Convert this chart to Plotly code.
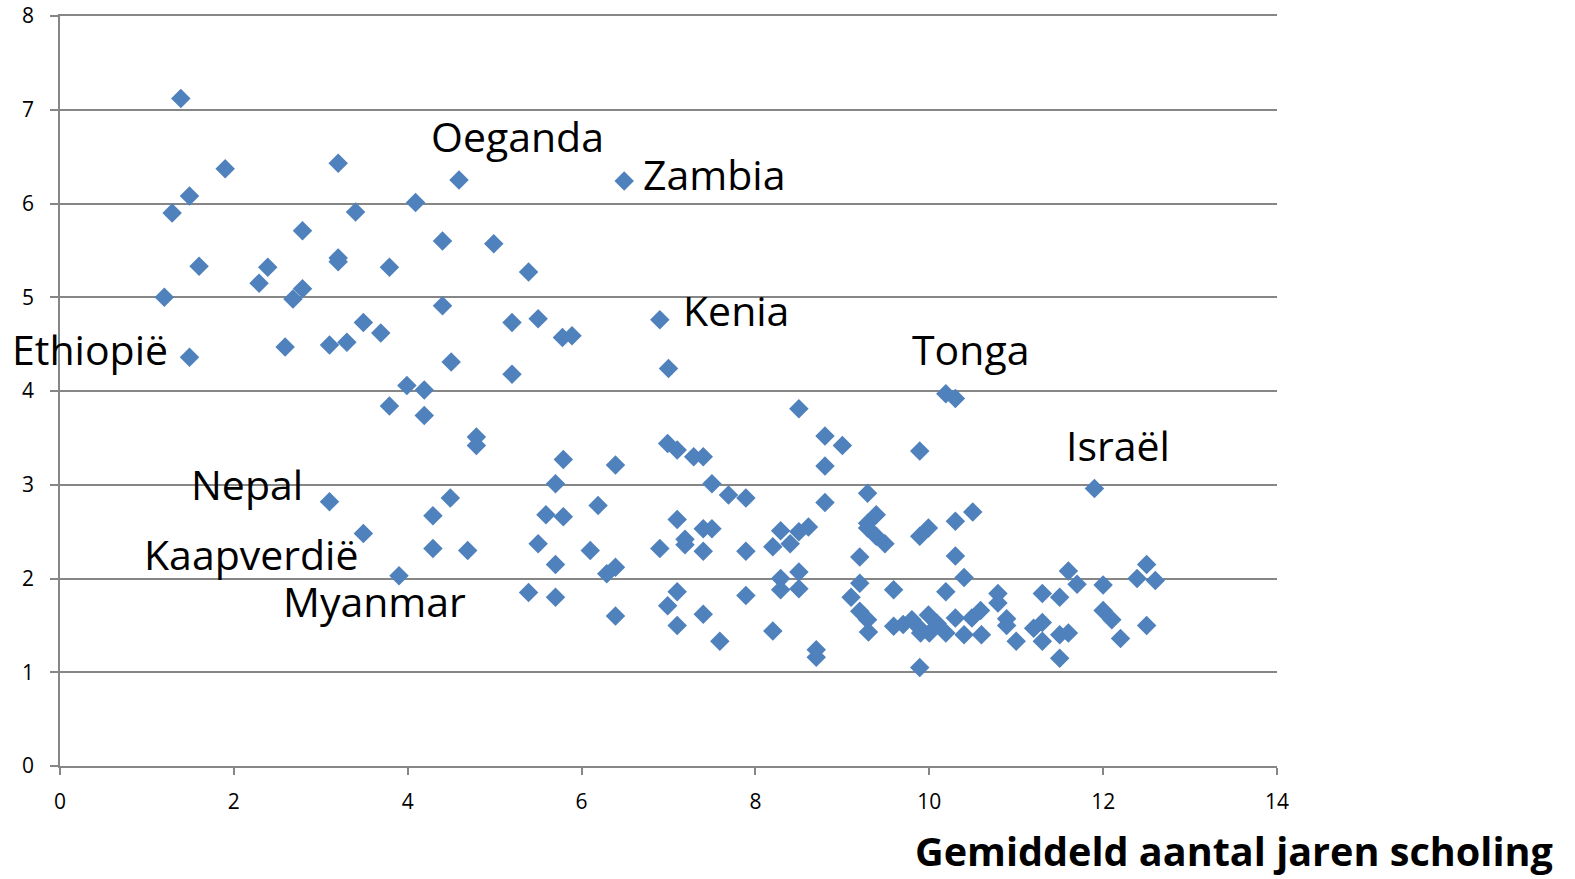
import plotly.graph_objects as go

# Gemiddeld aantal jaren scholing (x) vs. vruchtbaarheid (y)
school_years = [
    1.39, 1.29, 1.49, 1.90, 1.20, 1.60, 1.49, 2.29, 2.39, 2.79, 2.68, 2.79, 2.59,
    3.20, 3.20, 3.20, 3.40, 3.10, 3.30, 3.49, 3.69, 3.79, 4.09, 4.40, 4.40, 4.59,
    4.99, 5.39, 5.20, 5.50, 4.50, 5.20, 5.78, 5.89, 6.49, 6.90, 7.00, 3.99, 4.19,
    3.79, 4.19, 4.79, 4.79, 3.10, 3.49, 3.90, 4.29, 4.49, 4.29, 4.69, 5.79, 6.39,
    5.70, 5.59, 5.79, 5.50, 5.70, 6.10, 6.29, 6.39, 5.39, 5.70, 6.39, 6.19, 6.99,
    7.10, 7.29, 7.40, 7.50, 7.69, 7.89, 7.10, 6.90, 7.19, 7.19, 7.40, 7.50, 7.40,
    7.89, 7.10, 6.99, 7.10, 7.40, 7.59, 7.89, 8.50, 8.80, 9.00, 8.80, 8.80, 9.29,
    8.29, 8.20, 8.40, 8.50, 8.61, 8.29, 8.50, 8.29, 8.50, 8.20, 8.70, 8.70, 10.19,
    10.30, 9.89, 9.39, 9.29, 9.29, 9.39, 9.49, 9.99, 9.89, 10.30, 10.50, 10.30,
    10.40, 9.20, 9.20, 9.10, 9.20, 9.29, 9.30, 9.59, 10.19, 9.89, 9.59, 9.70, 9.80,
    9.89, 9.99, 10.09, 9.90, 10.00, 10.19, 10.30, 10.40, 10.49, 10.59, 10.60, 10.79,
    10.79, 10.89, 10.89, 11.00, 11.20, 11.30, 11.30, 11.30, 11.50, 11.50, 11.50,
    11.60, 11.60, 11.70, 12.00, 12.00, 12.10, 12.20, 12.39, 12.50, 12.60, 12.50,
    11.90,
]
fertility = [
    7.12, 5.90, 6.08, 6.37, 5.00, 5.33, 4.36, 5.15, 5.32, 5.71, 4.98, 5.09, 4.47,
    6.43, 5.42, 5.38, 5.91, 4.49, 4.52, 4.73, 4.62, 5.32, 6.01, 5.60, 4.91, 6.25,
    5.57, 5.27, 4.73, 4.77, 4.31, 4.18, 4.57, 4.59, 6.24, 4.76, 4.24, 4.06, 4.01,
    3.84, 3.74, 3.51, 3.42, 2.82, 2.48, 2.03, 2.67, 2.86, 2.32, 2.30, 3.27, 3.21,
    3.01, 2.68, 2.66, 2.37, 2.15, 2.30, 2.05, 2.12, 1.85, 1.80, 1.60, 2.78, 3.44,
    3.37, 3.30, 3.30, 3.01, 2.89, 2.86, 2.63, 2.32, 2.42, 2.36, 2.53, 2.53, 2.29,
    2.29, 1.86, 1.71, 1.50, 1.62, 1.33, 1.82, 3.81, 3.52, 3.42, 3.20, 2.81, 2.91,
    2.51, 2.34, 2.37, 2.50, 2.55, 2.00, 2.07, 1.88, 1.89, 1.44, 1.24, 1.16, 3.97,
    3.92, 3.36, 2.68, 2.59, 2.54, 2.45, 2.37, 2.54, 2.45, 2.61, 2.71, 2.24,
    2.01, 2.23, 1.95, 1.80, 1.65, 1.56, 1.43, 1.88, 1.86, 1.05, 1.49, 1.51, 1.56,
    1.47, 1.61, 1.52, 1.42, 1.42, 1.42, 1.58, 1.40, 1.58, 1.66, 1.40, 1.84,
    1.74, 1.57, 1.50, 1.33, 1.47, 1.84, 1.53, 1.33, 1.80, 1.40, 1.15,
    1.42, 2.08, 1.94, 1.93, 1.66, 1.56, 1.36, 2.00, 2.15, 1.98, 1.50,
    2.96,
]

# Country labels and where they are written (data coordinates)
label_text = ["Oeganda", "Zambia", "Kenia", "Tonga", "Israël",
              "Ethiopië", "Nepal", "Kaapverdië", "Myanmar"]
label_x = [5.26, 7.52, 7.78, 10.47, 12.17, 0.35, 2.15, 2.20, 3.62]
label_y = [6.72, 6.31, 4.86, 4.45, 3.42, 4.45, 3.01, 2.26, 1.76]

x_ticks = [0, 2, 4, 6, 8, 10, 12, 14]
y_ticks = [0, 1, 2, 3, 4, 5, 6, 7, 8]
x_title = "Gemiddeld aantal jaren scholing"

FONT = "Open Sans"
BLUE = "#4F81BD"
GRID = "#868686"

fig = go.Figure()
fig.add_trace(go.Scatter(
    x=school_years, y=fertility, mode="markers",
    marker=dict(symbol="diamond", size=15, color=BLUE, line=dict(width=0)),
    hoverinfo="x+y", showlegend=False, cliponaxis=False,
))

for t, lx, ly in zip(label_text, label_x, label_y):
    fig.add_annotation(x=lx, y=ly, xref="x", yref="y", text=t, showarrow=False,
                       xanchor="center", yanchor="middle",
                       font=dict(family=FONT, size=41, color="#000000"))

fig.add_annotation(x=1.2288, y=-0.1135, xref="paper", yref="paper", text=x_title,
                   showarrow=False, xanchor="right", yanchor="middle",
                   font=dict(family=FONT, size=39.6, color="#000000", weight="bold"))

fig.update_layout(
    width=1575, height=879,
    margin=dict(l=60, r=298, t=16, b=113, autoexpand=False),
    paper_bgcolor="white", plot_bgcolor="white",
    font=dict(family=FONT, size=21, color="#000000"),
)
fig.update_xaxes(range=[0, 14], tickvals=x_ticks, showgrid=False, zeroline=False,
                 showline=True, linecolor=GRID, linewidth=1.5, mirror=True,
                 ticks="outside", ticklen=7, tickcolor=GRID,
                 tickwidth=1.5, tickfont=dict(size=21), automargin=False,
                 ticklabelstandoff=9, ticklabeloverflow="allow")
fig.update_yaxes(range=[0, 8], tickvals=y_ticks, showgrid=True, gridcolor=GRID,
                 gridwidth=1.5, zeroline=False, showline=True, linecolor=GRID,
                 linewidth=1.5, ticks="outside", ticklen=8, tickcolor=GRID,
                 tickwidth=1.5, tickfont=dict(size=21), automargin=False,
                 ticklabelstandoff=12, ticklabeloverflow="allow")

# Remove the browser's default 8px page margin so the figure fills the window.
fig.write_html("out.html", config={"displayModeBar": False},
               post_script="document.body.style.margin='0';")
